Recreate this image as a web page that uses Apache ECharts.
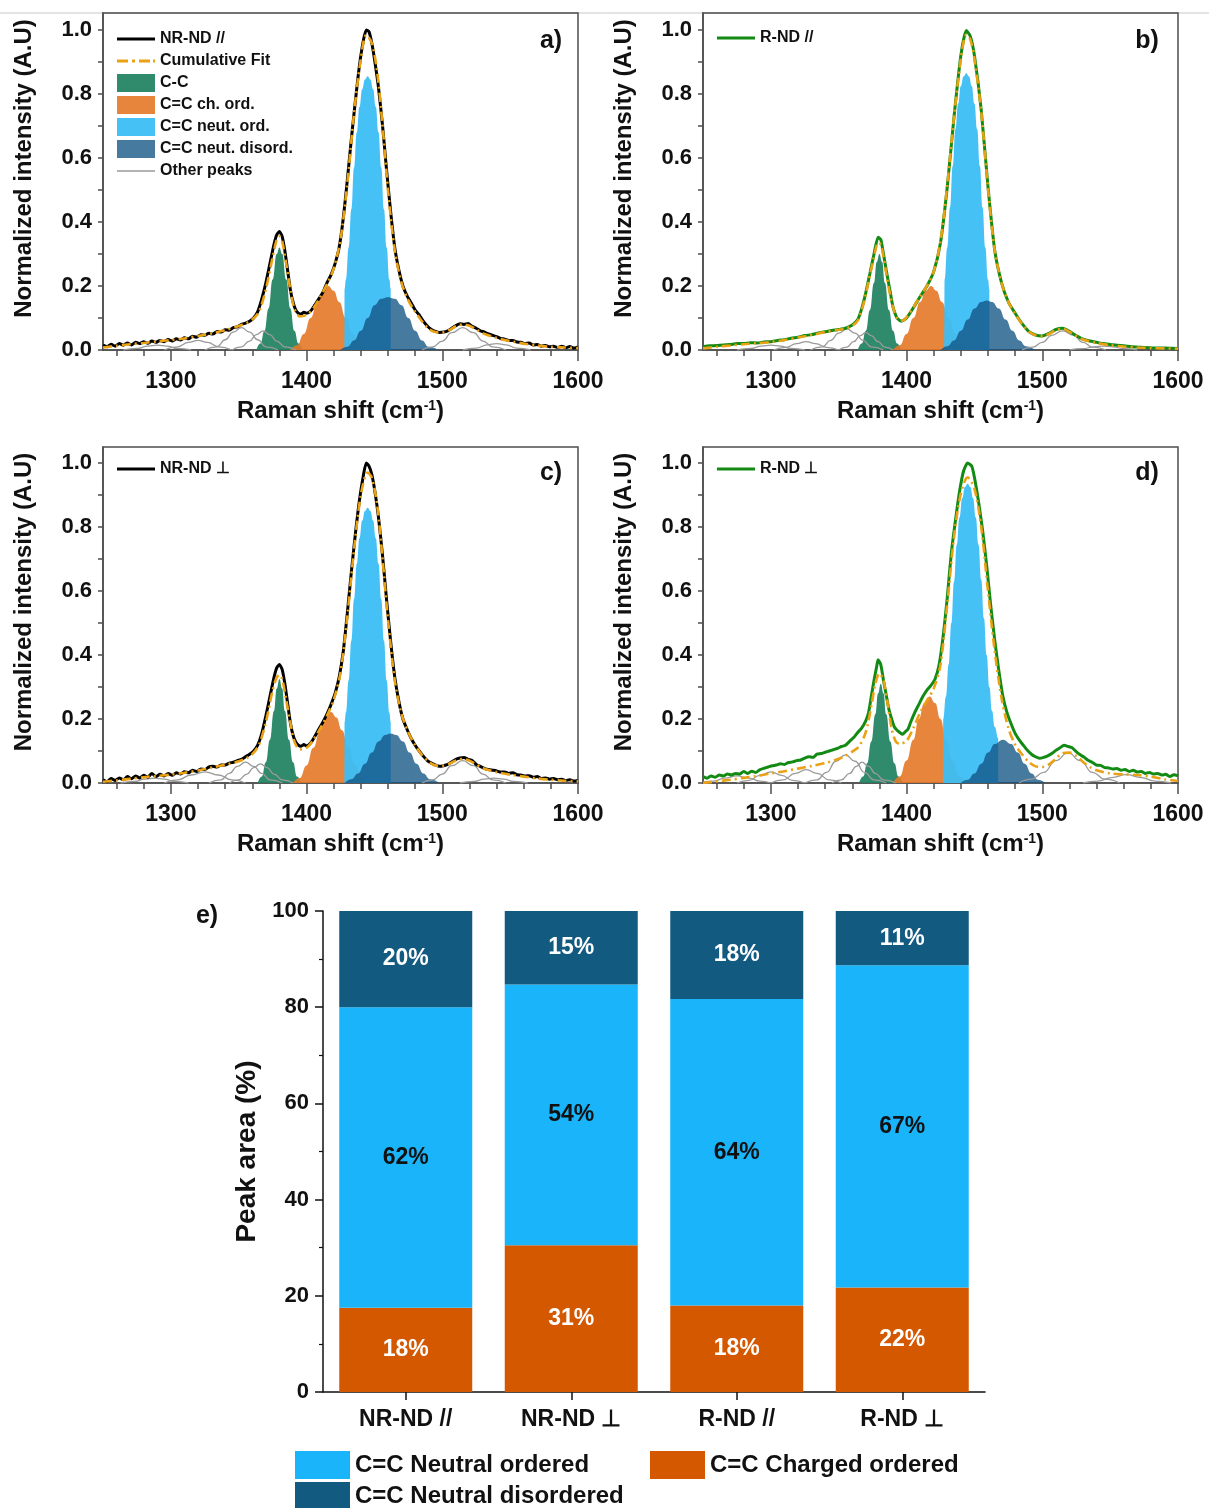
<!DOCTYPE html>
<html>
<head>
<meta charset="utf-8">
<script src="https://cdn.jsdelivr.net/npm/echarts@6/dist/echarts.min.js"></script>
<style>
html,body{margin:0;padding:0;background:#fff;}
#chart{width:1209px;height:1508px;}
</style>
</head>
<body>
<div id="chart"></div>
<script>
// ---------------- DATA ----------------
const xTickLabels = [1300, 1400, 1500, 1600];
const xMinorTicks = [1260,1280,1300,1320,1340,1360,1380,1400,1420,1440,1460,1480,1500,1520,1540,1560,1580,1600];
const yTickLabels = [0, 0.2, 0.4, 0.6, 0.8, 1.0];
const yMinorTicks = [0, 0.1, 0.2, 0.3, 0.4, 0.5, 0.6, 0.7, 0.8, 0.9, 1.0];

// Panel a) NR-ND //
const a_raw = [[1250,0.015],[1253,0.01],[1256,0.018],[1259,0.012],[1262,0.02],[1265,0.015],[1268,0.022],[1271,0.016],[1274,0.024],[1277,0.02],[1280,0.026],[1283,0.021],[1286,0.028],[1289,0.024],[1292,0.03],[1295,0.026],[1298,0.033],[1301,0.028],[1304,0.035],[1307,0.031],[1310,0.038],[1313,0.035],[1316,0.043],[1319,0.04],[1322,0.048],[1325,0.046],[1328,0.052],[1331,0.05],[1334,0.058],[1337,0.056],[1340,0.063],[1343,0.062],[1346,0.07],[1349,0.072],[1352,0.08],[1355,0.084],[1358,0.09],[1361,0.1],[1364,0.12],[1367,0.16],[1370,0.21],[1373,0.27],[1376,0.33],[1378,0.36],[1380,0.37],[1382,0.355],[1384,0.31],[1386,0.25],[1388,0.19],[1390,0.15],[1392,0.125],[1394,0.115],[1396,0.112],[1398,0.118],[1400,0.115],[1403,0.122],[1406,0.14],[1409,0.16],[1412,0.18],[1415,0.21],[1418,0.235],[1421,0.27],[1424,0.32],[1427,0.41],[1430,0.53],[1433,0.66],[1436,0.78],[1439,0.89],[1442,0.97],[1444,1.0],[1446,0.995],[1448,0.96],[1450,0.91],[1453,0.82],[1456,0.7],[1459,0.56],[1462,0.43],[1465,0.32],[1468,0.25],[1471,0.2],[1474,0.17],[1477,0.148],[1480,0.125],[1483,0.11],[1486,0.09],[1489,0.075],[1492,0.064],[1495,0.058],[1498,0.055],[1501,0.056],[1504,0.06],[1507,0.068],[1510,0.076],[1513,0.082],[1516,0.08],[1519,0.083],[1522,0.074],[1525,0.068],[1528,0.06],[1531,0.056],[1534,0.05],[1537,0.046],[1540,0.042],[1543,0.036],[1546,0.034],[1549,0.03],[1552,0.03],[1555,0.025],[1558,0.024],[1561,0.02],[1564,0.022],[1567,0.016],[1570,0.017],[1573,0.012],[1576,0.014],[1579,0.01],[1582,0.012],[1585,0.008],[1588,0.012],[1591,0.007],[1594,0.011],[1597,0.006],[1600,0.01]];
const a_fit = [[1250,0.008],[1260,0.013],[1270,0.018],[1280,0.022],[1290,0.027],[1300,0.031],[1310,0.036],[1320,0.044],[1330,0.052],[1340,0.062],[1350,0.075],[1355,0.083],[1360,0.095],[1365,0.12],[1370,0.19],[1375,0.29],[1378,0.345],[1380,0.355],[1382,0.34],[1385,0.27],[1388,0.19],[1391,0.13],[1395,0.105],[1400,0.11],[1405,0.13],[1410,0.165],[1415,0.205],[1420,0.255],[1425,0.345],[1430,0.52],[1435,0.74],[1440,0.91],[1444,0.985],[1448,0.96],[1452,0.87],[1456,0.7],[1460,0.5],[1465,0.31],[1470,0.21],[1475,0.155],[1480,0.12],[1485,0.09],[1490,0.066],[1495,0.056],[1500,0.055],[1505,0.062],[1510,0.074],[1515,0.08],[1520,0.076],[1525,0.064],[1530,0.052],[1540,0.038],[1550,0.028],[1560,0.02],[1570,0.014],[1580,0.01],[1590,0.008],[1600,0.006]];
const a_cc = [[1363,0],[1366,0.02],[1369,0.06],[1372,0.13],[1375,0.22],[1378,0.3],[1380,0.32],[1382,0.3],[1385,0.22],[1388,0.13],[1391,0.06],[1394,0.02],[1397,0]];
const a_ch = [[1388,0],[1393,0.015],[1398,0.05],[1403,0.1],[1408,0.15],[1412,0.185],[1416,0.2],[1420,0.185],[1424,0.15],[1429,0.1],[1434,0.05],[1439,0.015],[1444,0]];
const a_no = [[1427.9,0],[1428,0.19],[1429,0.22],[1431,0.32],[1433,0.44],[1435,0.57],[1437,0.68],[1439,0.76],[1441,0.815],[1443,0.845],[1445,0.855],[1447,0.845],[1449,0.815],[1451,0.76],[1453,0.68],[1455,0.57],[1457,0.44],[1459,0.32],[1461,0.22],[1462,0.19],[1462.1,0]];
const a_nd = [[1425,0],[1430,0.01],[1435,0.03],[1440,0.06],[1445,0.1],[1450,0.14],[1455,0.16],[1460,0.165],[1465,0.16],[1470,0.14],[1475,0.1],[1480,0.06],[1485,0.03],[1490,0.01],[1497,0]];
const a_other = [
  [[1265,0],[1275,0.005],[1283,0.012],[1290,0.015],[1297,0.012],[1305,0.005],[1315,0]],
  [[1295,0],[1305,0.01],[1313,0.024],[1320,0.03],[1327,0.024],[1335,0.01],[1345,0]],
  [[1325,0],[1334,0.01],[1340,0.032],[1346,0.056],[1352,0.07],[1358,0.056],[1364,0.032],[1370,0.01],[1379,0]],
  [[1345,0],[1352,0.01],[1358,0.028],[1363,0.048],[1368,0.06],[1373,0.048],[1378,0.028],[1384,0.01],[1392,0]],
  [[1485,0],[1493,0.01],[1500,0.028],[1507,0.054],[1515,0.07],[1523,0.054],[1530,0.028],[1537,0.01],[1547,0]],
  [[1515,0],[1525,0.006],[1533,0.016],[1540,0.02],[1547,0.016],[1555,0.006],[1565,0]]
];

// Panel b) R-ND //
const b_raw = [[1250,0.01],[1255,0.013],[1260,0.014],[1265,0.016],[1270,0.017],[1275,0.02],[1280,0.02],[1285,0.023],[1290,0.022],[1295,0.025],[1300,0.026],[1305,0.03],[1310,0.032],[1315,0.037],[1320,0.04],[1325,0.045],[1330,0.048],[1335,0.053],[1340,0.057],[1345,0.061],[1350,0.064],[1355,0.068],[1360,0.078],[1364,0.095],[1367,0.13],[1370,0.18],[1373,0.24],[1376,0.3],[1379,0.352],[1381,0.345],[1383,0.3],[1385,0.25],[1388,0.18],[1390,0.135],[1393,0.1],[1396,0.09],[1400,0.1],[1405,0.132],[1410,0.167],[1415,0.2],[1420,0.245],[1425,0.335],[1430,0.51],[1435,0.73],[1440,0.92],[1444,0.998],[1447,0.98],[1450,0.92],[1455,0.75],[1460,0.51],[1465,0.31],[1470,0.21],[1475,0.15],[1480,0.115],[1485,0.083],[1490,0.058],[1495,0.047],[1500,0.044],[1505,0.052],[1510,0.064],[1515,0.068],[1520,0.058],[1525,0.045],[1530,0.034],[1535,0.028],[1540,0.024],[1545,0.02],[1550,0.017],[1555,0.015],[1560,0.013],[1565,0.011],[1570,0.009],[1580,0.007],[1590,0.006],[1600,0.005]];
const b_fit = [[1250,0.005],[1260,0.01],[1270,0.014],[1280,0.018],[1290,0.021],[1300,0.025],[1310,0.031],[1320,0.039],[1330,0.047],[1340,0.056],[1350,0.063],[1355,0.067],[1360,0.076],[1364,0.092],[1367,0.125],[1370,0.175],[1373,0.235],[1376,0.29],[1379,0.335],[1381,0.33],[1383,0.29],[1385,0.24],[1388,0.17],[1391,0.12],[1394,0.095],[1397,0.092],[1400,0.102],[1405,0.133],[1410,0.168],[1415,0.2],[1420,0.245],[1425,0.34],[1430,0.515],[1435,0.73],[1440,0.91],[1444,0.985],[1447,0.97],[1450,0.91],[1455,0.745],[1460,0.505],[1465,0.31],[1470,0.21],[1475,0.15],[1480,0.113],[1485,0.082],[1490,0.058],[1495,0.046],[1500,0.043],[1505,0.05],[1510,0.062],[1515,0.066],[1520,0.057],[1525,0.044],[1530,0.033],[1540,0.022],[1550,0.015],[1560,0.011],[1570,0.008],[1580,0.006],[1590,0.005],[1600,0.004]];
const b_cc = [[1364,0],[1367,0.02],[1370,0.06],[1373,0.125],[1376,0.21],[1378,0.275],[1380,0.3],[1382,0.275],[1384,0.21],[1387,0.125],[1390,0.06],[1393,0.02],[1396,0]];
const b_ch = [[1390,0],[1395,0.015],[1400,0.05],[1405,0.1],[1410,0.15],[1414,0.185],[1418,0.2],[1422,0.185],[1426,0.15],[1431,0.1],[1436,0.05],[1441,0.015],[1446,0]];
const b_no = [[1427.9,0],[1428,0.22],[1430,0.32],[1432,0.445],[1434,0.575],[1436,0.69],[1438,0.77],[1440,0.825],[1442,0.855],[1444,0.865],[1446,0.855],[1448,0.825],[1450,0.77],[1452,0.69],[1454,0.575],[1456,0.445],[1458,0.32],[1460,0.22],[1461,0.19],[1461.1,0]];
const b_nd = [[1425,0],[1430,0.012],[1435,0.03],[1440,0.06],[1445,0.095],[1450,0.13],[1455,0.15],[1459,0.155],[1463,0.15],[1468,0.13],[1473,0.095],[1478,0.06],[1483,0.03],[1488,0.012],[1495,0]];
const b_other = [
  [[1275,0],[1285,0.005],[1293,0.012],[1300,0.015],[1307,0.012],[1315,0.005],[1325,0]],
  [[1302,0],[1311,0.008],[1319,0.02],[1326,0.026],[1333,0.02],[1341,0.008],[1350,0]],
  [[1329,0],[1338,0.01],[1344,0.03],[1350,0.053],[1356,0.066],[1362,0.053],[1368,0.03],[1374,0.01],[1383,0]],
  [[1350,0],[1356,0.009],[1361,0.026],[1366,0.045],[1370,0.055],[1374,0.045],[1379,0.026],[1384,0.009],[1390,0]],
  [[1485,0],[1493,0.009],[1500,0.024],[1507,0.046],[1515,0.06],[1523,0.046],[1530,0.024],[1537,0.009],[1547,0]],
  [[1520,0],[1530,0.004],[1538,0.01],[1545,0.012],[1552,0.01],[1560,0.004],[1570,0]]
];

// Panel c) NR-ND ⊥
const c_raw = [[1250,0.01],[1253,0.004],[1256,0.014],[1259,0.008],[1262,0.016],[1265,0.01],[1268,0.02],[1271,0.013],[1274,0.022],[1277,0.016],[1280,0.024],[1283,0.018],[1286,0.03],[1289,0.02],[1292,0.027],[1295,0.022],[1298,0.03],[1301,0.024],[1304,0.032],[1307,0.028],[1310,0.035],[1313,0.032],[1316,0.04],[1319,0.036],[1322,0.044],[1325,0.042],[1328,0.05],[1331,0.052],[1334,0.05],[1337,0.056],[1340,0.056],[1343,0.062],[1346,0.065],[1349,0.07],[1352,0.074],[1355,0.082],[1358,0.09],[1361,0.1],[1364,0.118],[1367,0.155],[1370,0.21],[1373,0.27],[1376,0.33],[1378,0.36],[1380,0.37],[1382,0.355],[1384,0.31],[1386,0.25],[1388,0.19],[1390,0.15],[1392,0.128],[1394,0.118],[1396,0.115],[1398,0.12],[1400,0.116],[1403,0.125],[1406,0.145],[1409,0.168],[1412,0.19],[1415,0.215],[1418,0.245],[1421,0.28],[1424,0.33],[1427,0.41],[1430,0.53],[1433,0.66],[1436,0.78],[1439,0.885],[1442,0.965],[1444,1.0],[1446,0.99],[1448,0.965],[1450,0.92],[1453,0.83],[1456,0.71],[1459,0.57],[1462,0.44],[1465,0.33],[1468,0.255],[1471,0.2],[1474,0.168],[1477,0.14],[1480,0.118],[1483,0.1],[1486,0.084],[1489,0.07],[1492,0.062],[1495,0.056],[1498,0.052],[1501,0.054],[1504,0.058],[1507,0.066],[1510,0.074],[1513,0.078],[1516,0.08],[1519,0.074],[1522,0.07],[1525,0.058],[1528,0.052],[1531,0.046],[1534,0.042],[1537,0.04],[1540,0.038],[1543,0.034],[1546,0.034],[1549,0.03],[1552,0.032],[1555,0.026],[1558,0.025],[1561,0.022],[1564,0.023],[1567,0.018],[1570,0.02],[1573,0.014],[1576,0.016],[1579,0.012],[1582,0.014],[1585,0.01],[1588,0.012],[1591,0.008],[1594,0.01],[1597,0.006],[1600,0.008]];
const c_fit = [[1250,0.004],[1260,0.008],[1270,0.013],[1280,0.018],[1290,0.022],[1300,0.026],[1310,0.032],[1320,0.039],[1330,0.048],[1340,0.057],[1350,0.068],[1355,0.076],[1360,0.09],[1365,0.12],[1370,0.19],[1375,0.29],[1378,0.33],[1380,0.338],[1382,0.325],[1385,0.26],[1388,0.19],[1391,0.13],[1395,0.105],[1400,0.11],[1405,0.135],[1410,0.17],[1415,0.21],[1420,0.26],[1425,0.345],[1430,0.52],[1435,0.73],[1440,0.9],[1445,0.97],[1448,0.955],[1452,0.87],[1456,0.7],[1460,0.51],[1465,0.32],[1470,0.215],[1475,0.158],[1480,0.118],[1485,0.088],[1490,0.066],[1495,0.055],[1500,0.054],[1505,0.06],[1510,0.07],[1515,0.075],[1520,0.07],[1525,0.058],[1530,0.046],[1540,0.034],[1550,0.026],[1560,0.02],[1570,0.014],[1580,0.01],[1590,0.007],[1600,0.005]];
const c_cc = [[1364,0],[1367,0.02],[1370,0.065],[1373,0.135],[1376,0.225],[1378,0.295],[1380,0.325],[1382,0.295],[1384,0.225],[1387,0.135],[1390,0.065],[1393,0.02],[1396,0]];
const c_ch = [[1390,0],[1395,0.016],[1400,0.055],[1405,0.11],[1410,0.165],[1414,0.205],[1418,0.222],[1422,0.205],[1426,0.165],[1431,0.11],[1436,0.055],[1441,0.016],[1446,0]];
const c_no = [[1427.9,0],[1428,0.19],[1429,0.22],[1431,0.32],[1433,0.445],[1435,0.575],[1437,0.685],[1439,0.765],[1441,0.82],[1443,0.85],[1445,0.86],[1447,0.85],[1449,0.82],[1451,0.765],[1453,0.685],[1455,0.575],[1457,0.445],[1459,0.32],[1461,0.22],[1462,0.19],[1462.1,0]];
const c_nd = [[1428,0],[1433,0.012],[1438,0.03],[1443,0.06],[1448,0.095],[1453,0.13],[1458,0.15],[1462,0.155],[1466,0.15],[1471,0.13],[1476,0.095],[1481,0.06],[1486,0.03],[1491,0.012],[1498,0]];
const c_other = [
  [[1263,0],[1273,0.005],[1281,0.012],[1288,0.015],[1295,0.012],[1303,0.005],[1313,0]],
  [[1295,0],[1305,0.01],[1315,0.025],[1325,0.035],[1335,0.025],[1345,0.01],[1355,0]],
  [[1328,0],[1337,0.01],[1343,0.03],[1349,0.052],[1355,0.065],[1361,0.052],[1367,0.03],[1373,0.01],[1382,0]],
  [[1343,0],[1350,0.01],[1356,0.028],[1361,0.048],[1366,0.06],[1371,0.048],[1376,0.028],[1382,0.01],[1390,0]],
  [[1485,0],[1493,0.01],[1500,0.028],[1507,0.054],[1515,0.07],[1523,0.054],[1530,0.028],[1537,0.01],[1547,0]],
  [[1513,0],[1523,0.005],[1531,0.012],[1538,0.015],[1545,0.012],[1553,0.005],[1563,0]]
];

// Panel d) R-ND ⊥
const d_raw = [[1250,0.02],[1253,0.015],[1256,0.022],[1259,0.018],[1262,0.025],[1265,0.022],[1268,0.028],[1271,0.025],[1274,0.03],[1277,0.028],[1280,0.036],[1283,0.03],[1286,0.037],[1289,0.033],[1292,0.042],[1295,0.046],[1298,0.05],[1301,0.054],[1304,0.056],[1307,0.06],[1310,0.058],[1313,0.064],[1316,0.066],[1319,0.07],[1322,0.072],[1325,0.078],[1328,0.082],[1331,0.08],[1334,0.09],[1337,0.092],[1340,0.096],[1343,0.1],[1346,0.104],[1349,0.108],[1352,0.114],[1355,0.118],[1358,0.13],[1361,0.142],[1364,0.158],[1367,0.172],[1370,0.195],[1372,0.22],[1374,0.27],[1376,0.32],[1378,0.365],[1379,0.385],[1381,0.37],[1383,0.32],[1385,0.275],[1387,0.23],[1389,0.2],[1391,0.175],[1393,0.165],[1395,0.158],[1397,0.152],[1399,0.16],[1401,0.168],[1403,0.19],[1406,0.22],[1409,0.245],[1412,0.27],[1415,0.29],[1418,0.305],[1421,0.325],[1424,0.37],[1427,0.46],[1430,0.58],[1433,0.72],[1436,0.82],[1439,0.91],[1442,0.975],[1445,1.0],[1448,0.99],[1450,0.955],[1453,0.88],[1456,0.79],[1459,0.68],[1462,0.555],[1465,0.445],[1468,0.35],[1471,0.27],[1474,0.22],[1477,0.185],[1480,0.155],[1483,0.135],[1486,0.118],[1489,0.102],[1492,0.09],[1495,0.082],[1498,0.077],[1501,0.08],[1504,0.085],[1507,0.092],[1510,0.102],[1513,0.11],[1516,0.118],[1519,0.114],[1522,0.11],[1525,0.098],[1528,0.088],[1531,0.08],[1534,0.07],[1537,0.064],[1540,0.056],[1543,0.055],[1546,0.048],[1549,0.047],[1552,0.044],[1555,0.045],[1558,0.04],[1561,0.042],[1564,0.036],[1567,0.04],[1570,0.034],[1573,0.036],[1576,0.03],[1579,0.033],[1582,0.028],[1585,0.03],[1588,0.025],[1591,0.027],[1594,0.02],[1597,0.026],[1600,0.022]];
const d_fit = [[1250,0.0],[1260,0.005],[1270,0.01],[1280,0.016],[1290,0.022],[1300,0.03],[1310,0.037],[1320,0.045],[1330,0.053],[1340,0.062],[1350,0.076],[1355,0.085],[1360,0.098],[1365,0.115],[1370,0.16],[1374,0.24],[1377,0.31],[1380,0.343],[1383,0.32],[1386,0.25],[1389,0.17],[1392,0.13],[1395,0.122],[1400,0.132],[1405,0.172],[1410,0.22],[1415,0.258],[1420,0.295],[1425,0.37],[1430,0.56],[1435,0.77],[1440,0.905],[1445,0.955],[1450,0.92],[1455,0.8],[1460,0.6],[1465,0.41],[1470,0.265],[1475,0.172],[1480,0.12],[1485,0.09],[1490,0.066],[1495,0.052],[1500,0.05],[1505,0.058],[1510,0.076],[1515,0.093],[1520,0.095],[1525,0.085],[1530,0.066],[1535,0.05],[1540,0.04],[1550,0.03],[1560,0.027],[1570,0.025],[1580,0.02],[1590,0.012],[1600,0.006]];
const d_cc = [[1365,0],[1368,0.02],[1371,0.062],[1374,0.13],[1377,0.215],[1379,0.28],[1381,0.31],[1383,0.28],[1385,0.215],[1388,0.13],[1391,0.062],[1394,0.02],[1397,0]];
const d_ch = [[1390,0],[1395,0.02],[1400,0.07],[1405,0.135],[1409,0.2],[1413,0.25],[1417,0.27],[1421,0.25],[1425,0.2],[1429,0.135],[1434,0.07],[1439,0.02],[1445,0]];
const d_no = [[1426.9,0],[1427,0.2],[1429,0.27],[1431,0.37],[1433,0.5],[1435,0.63],[1437,0.745],[1439,0.83],[1441,0.89],[1443,0.925],[1445,0.935],[1447,0.925],[1449,0.89],[1451,0.83],[1453,0.745],[1455,0.635],[1457,0.515],[1459,0.4],[1461,0.3],[1463,0.225],[1465,0.175],[1467.5,0.14],[1467.6,0]];
const d_nd = [[1440,0],[1445,0.01],[1450,0.03],[1455,0.06],[1460,0.095],[1465,0.122],[1471,0.135],[1477,0.122],[1482,0.095],[1487,0.06],[1492,0.03],[1497,0.01],[1502,0]];
const d_other = [
  [[1250,0.003],[1258,0.006],[1266,0.015],[1275,0.022],[1284,0.015],[1292,0.006],[1300,0]],
  [[1275,0],[1284,0.008],[1292,0.024],[1300,0.035],[1308,0.024],[1316,0.008],[1325,0]],
  [[1300,0],[1309,0.01],[1318,0.03],[1326,0.042],[1334,0.03],[1343,0.01],[1352,0]],
  [[1325,0],[1334,0.01],[1341,0.033],[1348,0.068],[1355,0.088],[1362,0.068],[1369,0.033],[1376,0.01],[1385,0]],
  [[1345,0],[1352,0.01],[1358,0.03],[1363,0.052],[1367,0.065],[1372,0.052],[1377,0.03],[1383,0.01],[1392,0]],
  [[1483,0],[1492,0.012],[1501,0.033],[1510,0.07],[1519,0.095],[1528,0.07],[1537,0.033],[1546,0.012],[1557,0]],
  [[1530,0],[1541,0.006],[1551,0.017],[1562,0.026],[1573,0.017],[1583,0.006],[1595,0]]
];

// Panel e) stacked peak areas
const barCategories = ['NR-ND //', 'NR-ND \u22A5', 'R-ND //', 'R-ND \u22A5'];
const chargedOrdered = [17.5, 30.5, 18.0, 21.7];
const neutralOrdered = [62.5, 54.2, 63.7, 67.0];
const neutralDisordered = [20.0, 15.3, 18.3, 11.3];
const chargedLabels = ['18%', '31%', '18%', '22%'];
const neutralOrdLabels = ['62%', '54%', '64%', '67%'];
const neutralDisLabels = ['20%', '15%', '18%', '11%'];

// ---------------- STYLE ----------------
const FONT = "'Liberation Sans', Arial, Helvetica, sans-serif";
const AX = '#4d4d4d';
const C_CC = 'rgba(30,128,95,0.92)';
const C_CH = 'rgba(228,120,40,0.9)';
const C_NO = 'rgba(60,190,245,0.95)';
const C_ND = 'rgba(18,84,132,0.78)';
const FIT = '#eaa214';

// legend icons (box 38x18 kept by tiny corner marks)
const CORNERS = 'M0,0 L0.01,0 L0,0.01 Z M38,18 L37.99,18 L38,17.99 Z ';
const ICON_SOLID = 'path://' + CORNERS + 'M0,7.6 L38,7.6 L38,10.4 L0,10.4 Z';
const ICON_THIN = 'path://' + CORNERS + 'M0,8.3 L38,8.3 L38,9.7 L0,9.7 Z';
const ICON_DASHDOT = 'path://' + CORNERS + 'M0,7.6 L11,7.6 L11,10.4 L0,10.4 Z M15,7.6 L18,7.6 L18,10.4 L15,10.4 Z M22,7.6 L33,7.6 L33,10.4 L22,10.4 Z M36,7.6 L38,7.6 L38,10.4 L36,10.4 Z';

const grids = [
  {left: 103, right: 631, top: 13, bottom: 1158, max: 1.053},
  {left: 703, right: 31, top: 13, bottom: 1158, max: 1.053},
  {left: 103, right: 631, top: 447, bottom: 725, max: 1.05},
  {left: 703, right: 31, top: 447, bottom: 725, max: 1.05}
];

const option = {
  animation: false,
  backgroundColor: '#fff',
  textStyle: {fontFamily: FONT},
  grid: [], xAxis: [], yAxis: [], series: [], legend: [], graphic: []
};

grids.forEach((g, i) => {
  option.grid.push({left: g.left, right: g.right, top: g.top, bottom: g.bottom, show: true,
    borderColor: AX, borderWidth: 1.5, backgroundColor: 'transparent', containLabel: false});
  option.xAxis.push({
    type: 'value', gridIndex: i, min: 1250, max: 1600, position: 'bottom',
    name: 'Raman shift (cm{sup|-1})', nameLocation: 'middle', nameGap: 49,
    nameTextStyle: {fontSize: 24, fontWeight: 'bold', color: '#111',
      rich: {sup: {fontSize: 14, fontWeight: 'bold', color: '#111', verticalAlign: 'top', padding: [0, 0, 10, 0]}}},
    axisLine: {show: true, lineStyle: {color: AX, width: 1.5}},
    axisTick: {show: true, customValues: xMinorTicks, length: 6, lineStyle: {color: AX, width: 1.5}},
    axisLabel: {customValues: xTickLabels, margin: 20, fontSize: 23, fontWeight: 'bold', color: '#111',
      formatter: v => String(Math.round(v))},
    splitLine: {show: false}
  });
  option.xAxis.push({
    type: 'value', gridIndex: i, min: 1250, max: 1600, position: 'bottom',
    axisLine: {show: false},
    axisTick: {show: true, customValues: xTickLabels, length: 11, lineStyle: {color: AX, width: 1.5}},
    axisLabel: {show: false}, splitLine: {show: false}
  });
  option.yAxis.push({
    type: 'value', gridIndex: i, min: 0, max: g.max,
    name: 'Normalized intensity (A.U)', nameLocation: 'middle', nameGap: 67,
    nameTextStyle: {fontSize: 24, fontWeight: 'bold', color: '#111', padding: [0, 0, 0, 26]},
    axisLine: {show: true, lineStyle: {color: AX, width: 1.5}},
    axisTick: {show: true, customValues: yMinorTicks, length: 5, lineStyle: {color: AX, width: 1.5}},
    axisLabel: {customValues: yTickLabels, margin: 11, fontSize: 22, fontWeight: 'bold', color: '#111',
      formatter: v => Number(v).toFixed(1)},
    splitLine: {show: false}
  });
});

function addPanel(i, rawName, rawColor, raw, fit, cc, ch, no, nd, others) {
  const xi = i * 2, yi = i;
  const base = {type: 'line', xAxisIndex: xi, yAxisIndex: yi, showSymbol: false, symbol: 'none', silent: true};
  const area = (name, data, color) => Object.assign({}, base, {
    name, data, smooth: 0.5, smoothMonotone: 'x', z: 2,
    itemStyle: {color}, lineStyle: {width: 0, color}, areaStyle: {color, opacity: 1}
  });
  option.series.push(area('C-C', cc, C_CC));
  option.series.push(area('C=C ch. ord.', ch, C_CH));
  option.series.push(area('C=C neut. ord.', no, C_NO));
  option.series.push(area('C=C neut. disord.', nd, C_ND));
  others.forEach(o => option.series.push(Object.assign({}, base, {
    name: 'Other peaks', data: o, smooth: 0.5, smoothMonotone: 'x', z: 3,
    itemStyle: {color: '#9a9a9a'}, lineStyle: {width: 1.3, color: '#9a9a9a'}
  })));
  option.series.push(Object.assign({}, base, {
    name: rawName, data: raw, z: 4, smooth: 0.2,
    itemStyle: {color: rawColor}, lineStyle: {width: 3, color: rawColor}
  }));
  option.series.push(Object.assign({}, base, {
    name: 'Cumulative Fit', data: fit, z: 5, smooth: 0.3,
    itemStyle: {color: FIT}, lineStyle: {width: 2.6, color: FIT, type: [9, 4, 2, 4]}
  }));
}

addPanel(0, 'NR-ND //', '#000', a_raw, a_fit, a_cc, a_ch, a_no, a_nd, a_other);
addPanel(1, 'R-ND //', '#138a13', b_raw, b_fit, b_cc, b_ch, b_no, b_nd, b_other);
addPanel(2, 'NR-ND \u22A5', '#000', c_raw, c_fit, c_cc, c_ch, c_no, c_nd, c_other);
addPanel(3, 'R-ND \u22A5', '#138a13', d_raw, d_fit, d_cc, d_ch, d_no, d_nd, d_other);

const legText = {fontSize: 16, fontWeight: 'bold', color: '#111', fontFamily: FONT};
const legCommon = {padding: 0, itemWidth: 38, itemHeight: 18, textStyle: legText, selectedMode: false};
option.legend.push(Object.assign({}, legCommon, {
  left: 117, top: 30, orient: 'vertical', itemGap: 4,
  data: [
    {name: 'NR-ND //', icon: ICON_SOLID}, {name: 'Cumulative Fit', icon: ICON_DASHDOT},
    {name: 'C-C', icon: 'rect'}, {name: 'C=C ch. ord.', icon: 'rect'},
    {name: 'C=C neut. ord.', icon: 'rect'}, {name: 'C=C neut. disord.', icon: 'rect'},
    {name: 'Other peaks', icon: ICON_THIN}
  ]
}));
option.legend.push(Object.assign({}, legCommon, {left: 717, top: 29, data: [{name: 'R-ND //', icon: ICON_SOLID}]}));
option.legend.push(Object.assign({}, legCommon, {left: 117, top: 460, data: [{name: 'NR-ND \u22A5', icon: ICON_SOLID}]}));
option.legend.push(Object.assign({}, legCommon, {left: 717, top: 460, data: [{name: 'R-ND \u22A5', icon: ICON_SOLID}]}));

// ---- panel e
option.grid.push({left: 323, right: 224, top: 911, bottom: 116, show: false});
option.xAxis.push({
  type: 'category', gridIndex: 4, data: barCategories,
  axisLine: {show: true, lineStyle: {color: '#111', width: 1.5}},
  axisTick: {show: true, alignWithLabel: true, length: 8, lineStyle: {color: '#111', width: 1.5}},
  axisLabel: {margin: 16, fontSize: 23, fontWeight: 'bold', color: '#111'}
});
option.yAxis.push({
  type: 'value', gridIndex: 4, min: 0, max: 100, interval: 20,
  name: 'Peak area (%)', nameLocation: 'middle', nameGap: 58,
  nameTextStyle: {fontSize: 28, fontWeight: 'bold', color: '#111'},
  axisLine: {show: true, lineStyle: {color: '#111', width: 1.5}},
  axisTick: {show: true, length: 8, lineStyle: {color: '#111', width: 1.5}},
  minorTick: {show: true, splitNumber: 2, length: 4, lineStyle: {color: '#111', width: 1.2}},
  axisLabel: {margin: 14, fontSize: 22, fontWeight: 'bold', color: '#111'},
  splitLine: {show: false}
});
function barSeries(name, data, color, labels, labelColor) {
  return {
    type: 'bar', name, data, stack: 'area', xAxisIndex: 8, yAxisIndex: 4, barWidth: 133,
    itemStyle: {color}, silent: true,
    label: {show: true, position: 'inside', fontSize: 23, fontWeight: 'bold', color: labelColor,
      fontFamily: FONT, formatter: p => labels[p.dataIndex]}
  };
}
option.series.push(barSeries('C=C Charged ordered', chargedOrdered, '#d45800', chargedLabels, '#fff'));
option.series.push(barSeries('C=C Neutral ordered', neutralOrdered, '#19b4f9', neutralOrdLabels, '#111'));
option.series.push(barSeries('C=C Neutral disordered', neutralDisordered, '#135a80', neutralDisLabels, '#fff'));

const barLeg = {fontSize: 24, fontWeight: 'bold', color: '#111', fontFamily: FONT};
const barLegCommon = {padding: 0, itemWidth: 55, itemHeight: 28, textStyle: barLeg, selectedMode: false};
option.legend.push(Object.assign({}, barLegCommon, {left: 295, top: 1451, data: [{name: 'C=C Neutral ordered', icon: 'rect'}]}));
option.legend.push(Object.assign({}, barLegCommon, {left: 650, top: 1451, data: [{name: 'C=C Charged ordered', icon: 'rect'}]}));
option.legend.push(Object.assign({}, barLegCommon, {left: 295, top: 1482, data: [{name: 'C=C Neutral disordered', icon: 'rect'}]}));

// ---- panel letters and page rule
const letters = [['a)', 551, 41], ['b)', 1147, 41], ['c)', 551, 473], ['d)', 1147, 473], ['e)', 207, 916]];
option.graphic.push({type: 'line', shape: {x1: 0, y1: 13, x2: 1209, y2: 13}, style: {stroke: '#c9c9c9', lineWidth: 1}, z: -1});
letters.forEach(l => option.graphic.push({
  type: 'text', x: l[1], y: l[2],
  style: {text: l[0], font: "bold 25px " + FONT, fill: '#111', textAlign: 'center', textVerticalAlign: 'middle'}
}));

const chart = echarts.init(document.getElementById('chart'), null, {renderer: 'canvas', width: 1209, height: 1508});
chart.setOption(option);
</script>
</body>
</html>
